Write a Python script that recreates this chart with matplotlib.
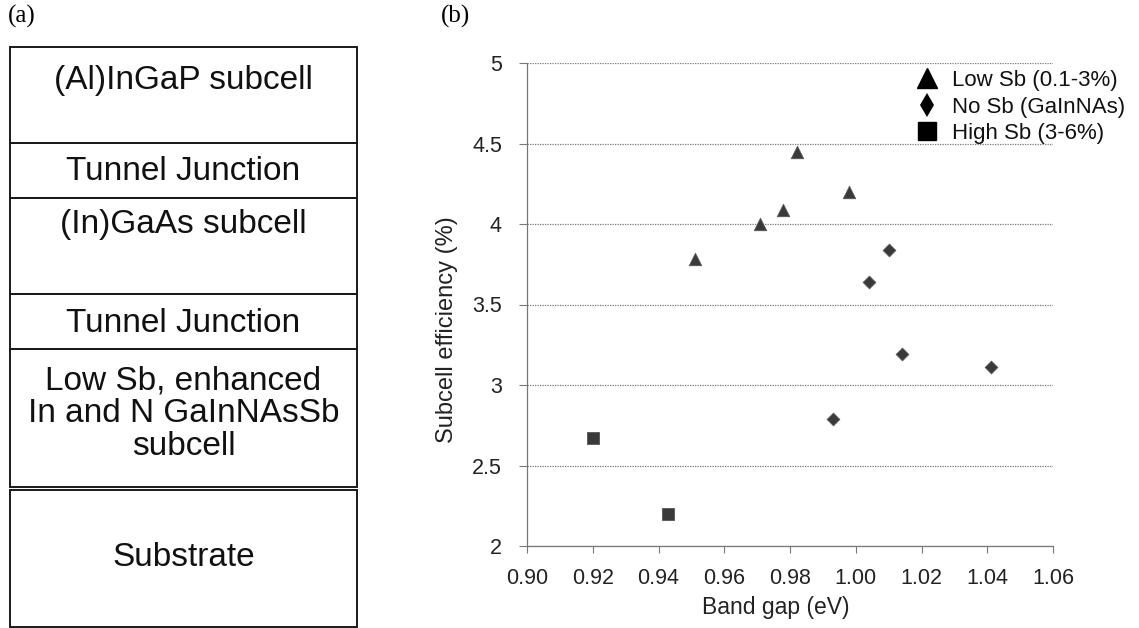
import matplotlib.pyplot as plt
from matplotlib.patches import Rectangle
from matplotlib.lines import Line2D

plt.rcParams['font.family'] = ['Liberation Sans', 'DejaVu Sans']

# (a) layer stack, top to bottom
layer_labels = ["(Al)InGaP subcell", "Tunnel Junction", "(In)GaAs subcell",
                "Tunnel Junction", "Low Sb, enhanced\nIn and N GaInNAsSb\nsubcell",
                "Substrate"]

# (b) subcell efficiency vs band gap
low_sb_gap = [0.951, 0.971, 0.978, 0.982, 0.998]
low_sb_eff = [3.78, 4.00, 4.09, 4.45, 4.20]
no_sb_gap = [0.993, 1.004, 1.010, 1.014, 1.041]
no_sb_eff = [2.79, 3.64, 3.84, 3.19, 3.11]
high_sb_gap = [0.920, 0.943]
high_sb_eff = [2.67, 2.20]
series_names = ["Low Sb (0.1-3%)", "No Sb (GaInNAs)", "High Sb (3-6%)"]

x_ticks = [0.90, 0.92, 0.94, 0.96, 0.98, 1.00, 1.02, 1.04, 1.06]
y_ticks = [2, 2.5, 3, 3.5, 4, 4.5, 5]

W, H = 1139, 628
fig = plt.figure(figsize=(W / 100, H / 100), dpi=100)

# ---- panel (a): drawn in pixel units ----
axa = fig.add_axes([0, 0, 1, 1])
axa.set_xlim(0, W)
axa.set_ylim(H, 0)
axa.axis('off')

box_left, box_right = 10, 357
# boundaries for the top five layers, substrate sits in its own box
edges = [47, 143, 198, 294, 349, 487]
sub_top, sub_bot = 490, 627
text_y = [80, 172, 225, 323, 414, 557]

for i in range(5):
    axa.add_patch(Rectangle((box_left, edges[i]), box_right - box_left,
                            edges[i + 1] - edges[i], fill=False,
                            edgecolor='#1a1a1a', lw=1.4))
axa.add_patch(Rectangle((box_left, sub_top), box_right - box_left,
                        sub_bot - sub_top, fill=False, edgecolor='#1a1a1a', lw=1.4))

for lab, ty in zip(layer_labels, text_y):
    axa.text((box_left + box_right) / 2, ty, lab, ha='center', va='center',
             fontsize=24, linespacing=1.08, color='#111111')

axa.text(8, 16, "(a)", fontsize=18, family='Liberation Serif', va='center')
axa.text(441, 16, "(b)", fontsize=18, family='Liberation Serif', va='center')

# ---- panel (b): scatter ----
ax = fig.add_axes([527 / W, (H - 546) / H, 526 / W, 483 / H])
mk = dict(color='#3a3a3a', edgecolors='#555555', linewidths=0.6, zorder=3)
ax.scatter(low_sb_gap, low_sb_eff, marker='^', s=80, **mk)
ax.scatter(no_sb_gap, no_sb_eff, marker='D', s=42, **mk)
ax.scatter(high_sb_gap, high_sb_eff, marker='s', s=80, **mk)

ax.set_xlim(0.90, 1.06)
ax.set_ylim(2, 5)
ax.set_xticks(x_ticks)
ax.set_xticklabels([f"{v:.2f}" for v in x_ticks])
ax.set_yticks(y_ticks)
ax.set_yticklabels([f"{v:g}" for v in y_ticks])
ax.grid(axis='y', color='#777777', lw=0.9, ls=(0, (1, 1)))
ax.set_axisbelow(True)
for s in ['top', 'right']:
    ax.spines[s].set_visible(False)
for s in ['left', 'bottom']:
    ax.spines[s].set_color('#777777')
    ax.spines[s].set_linestyle((0, (1, 1)))
    ax.spines[s].set_linewidth(0.9)
ax.tick_params(axis='x', length=5, color='#777777', labelsize=15.5,
               labelcolor='#222222', pad=11)
ax.tick_params(axis='y', length=6, color='#777777', labelsize=15.5,
               labelcolor='#222222', pad=12)
ax.set_xlabel("Band gap (eV)", fontsize=16.5, color='#222222')
ax.set_ylabel("Subcell efficiency (%)", fontsize=17, color='#222222')
ax.xaxis.set_label_coords(0.473, -0.104)
ax.yaxis.set_label_coords(-0.131, 0.447)

handles = [Line2D([], [], ls='none', marker='^', ms=15, color='black'),
           Line2D([], [], ls='none', marker='d', ms=12, markeredgewidth=0,
                  color='black'),
           Line2D([], [], ls='none', marker='s', ms=13, color='black')]
fig.legend(handles, series_names, loc='upper left',
           bbox_to_anchor=(916 / W, (H - 70) / H), frameon=False, fontsize=16,
           handlelength=1.0, handletextpad=0.6, labelspacing=0.25,
           borderpad=0, borderaxespad=0, labelcolor='#111111')

fig.savefig("out.png", dpi=100)
